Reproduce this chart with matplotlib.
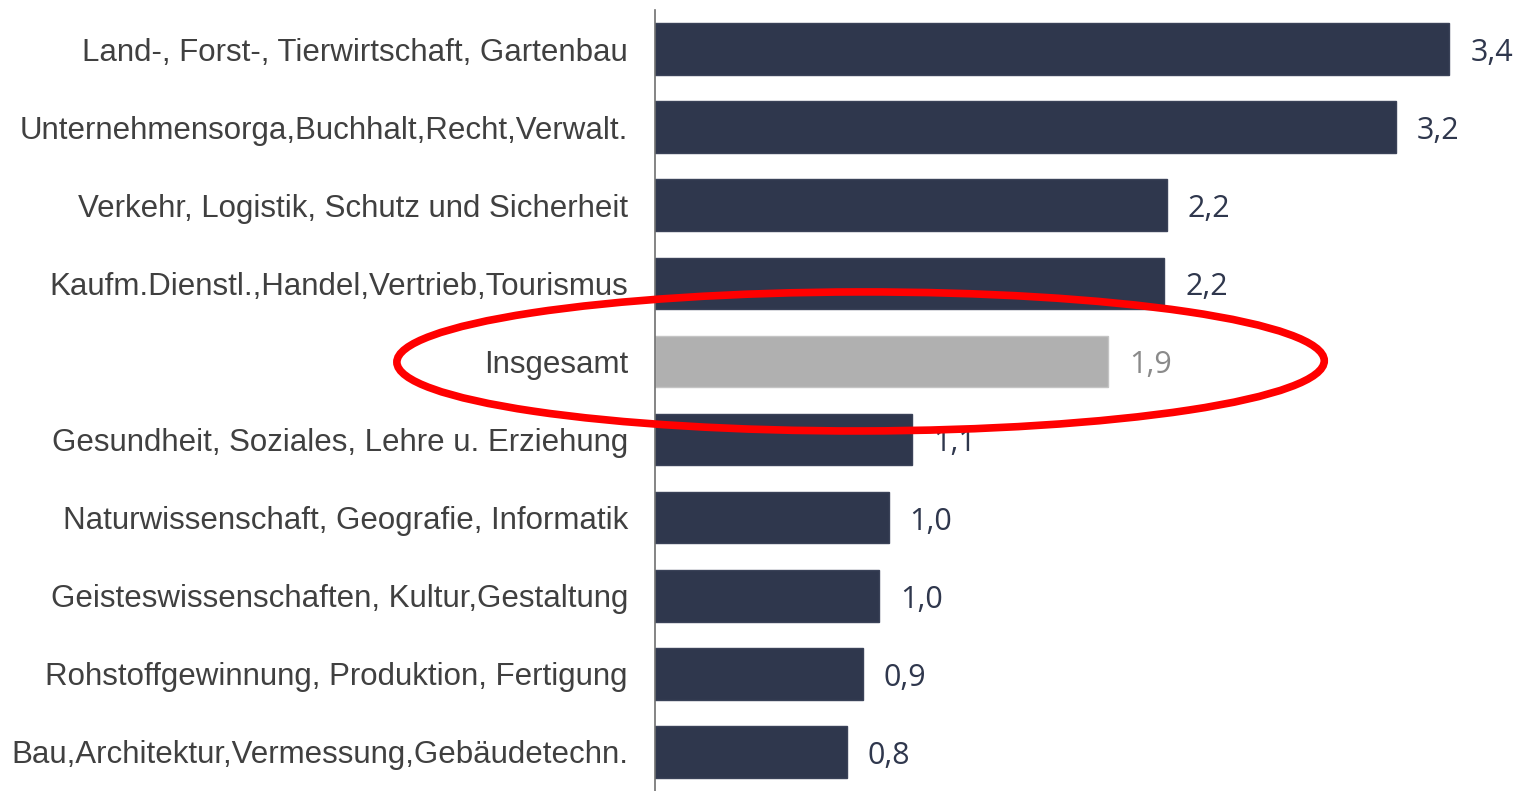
import matplotlib
matplotlib.use("Agg")
import matplotlib.pyplot as plt
from matplotlib.patches import Ellipse

# Berufsbereiche, von oben nach unten
categories = [
    "Land-, Forst-, Tierwirtschaft, Gartenbau",
    "Unternehmensorga,Buchhalt,Recht,Verwalt.",
    "Verkehr, Logistik, Schutz und Sicherheit",
    "Kaufm.Dienstl.,Handel,Vertrieb,Tourismus",
    "Insgesamt",
    "Gesundheit, Soziales, Lehre u. Erziehung",
    "Naturwissenschaft, Geografie, Informatik",
    "Geisteswissenschaften, Kultur,Gestaltung",
    "Rohstoffgewinnung, Produktion, Fertigung",
    "Bau,Architektur,Vermessung,Gebäudetechn.",
]
values = [3.40, 3.17, 2.19, 2.18, 1.94, 1.10, 1.00, 0.96, 0.89, 0.82]
highlight = "Insgesamt"

navy = "#2f374d"
grey = "#b0b0b0"

fig = plt.figure(figsize=(15.17, 7.91), dpi=100)
ax = fig.add_axes([655 / 1517, 0.0, 1 - 655 / 1517, 1 - 10 / 791])

pos = list(range(len(categories)))
colors = [grey if c == highlight else navy for c in categories]
edges = ["#c4c4c4" if c == highlight else "#3a4258" for c in categories]
ax.barh(pos, values, height=0.66, color=colors, edgecolor=edges, linewidth=1)

for p, v, c in zip(pos, values, categories):
    col = "#8a8a8a" if c == highlight else navy
    ax.text(v + 0.09, p + 0.05, f"{v:.1f}".replace(".", ","), va="center", ha="left",
            fontsize=22, color=col, family="Open Sans")

ax.set_yticks(pos)
ax.set_yticklabels(categories, fontsize=22.5, color="#404040", family="Liberation Sans")
ax.tick_params(axis="y", length=0, pad=19.5)
ax.set_ylim(len(categories) - 0.5, -0.5)
ax.set_xlim(0, 3.69)
ax.set_xticks([])
for s in ["top", "right", "bottom"]:
    ax.spines[s].set_visible(False)
ax.spines["left"].set_color("#707070")
ax.spines["left"].set_linewidth(1.2)

# rote Markierung um "Insgesamt"
idx = categories.index(highlight)
ell = Ellipse((0.88, idx), width=3.97, height=1.78, angle=-0.3, fill=False,
              edgecolor="#ff0000", linewidth=5.5, clip_on=False, zorder=5)
ax.add_patch(ell)

fig.savefig("out.png", dpi=100)
